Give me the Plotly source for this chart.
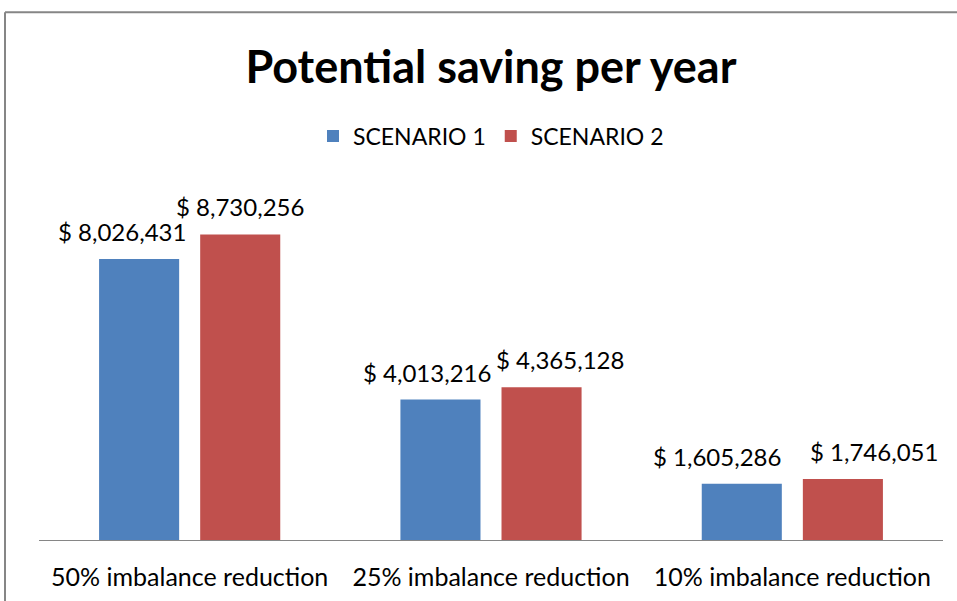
import plotly.graph_objects as go

categories = ["50% imbalance reduction", "25% imbalance reduction", "10% imbalance reduction"]
scenario1 = [8026431, 4013216, 1605286]
scenario2 = [8730256, 4365128, 1746051]
series_names = ["SCENARIO 1", "SCENARIO 2"]
colors = ["#4F81BD", "#C0504D"]
label_shift1 = [-17, -14, -25]
label_shift2 = [0, 18, 31]

FONT = "Lato"

fig = go.Figure()
fig.add_trace(go.Bar(x=categories, y=scenario1, name=series_names[0],
                     marker=dict(color=colors[0], line=dict(width=0))))
fig.add_trace(go.Bar(x=categories, y=scenario2, name=series_names[1],
                     marker=dict(color=colors[1], line=dict(width=0))))

def fmt(v):
    return "$ {:,}".format(v)

annotations = []
for i, c in enumerate(categories):
    for vals, shifts, off in ((scenario1, label_shift1, -50.5), (scenario2, label_shift2, 50.5)):
        annotations.append(dict(
            x=c, y=vals[i], xref="x", yref="y", text=fmt(vals[i]),
            showarrow=False, yanchor="bottom", yshift=11,
            xshift=off + shifts[i],
            font=dict(family=FONT, size=24, color="#000000")))

# chart border (gray), plot area x 39..943, y 190.5..540
px0, px1, py0, py1 = 39, 943, 190.5, 540
def xp(px):
    return (px - px0) / (px1 - px0)
def yp(py):
    return (py1 - py) / (py1 - py0)

shapes = [
    dict(type="line", xref="paper", yref="paper", x0=xp(5), x1=xp(965), y0=yp(13), y1=yp(13),
         line=dict(color="#868686", width=2)),
    dict(type="line", xref="paper", yref="paper", x0=xp(5), x1=xp(5), y0=yp(13), y1=yp(610),
         line=dict(color="#868686", width=2)),
]

fig.update_layout(
    width=957, height=601,
    margin=dict(l=39, r=14, t=190, b=61, autoexpand=False),
    paper_bgcolor="white", plot_bgcolor="white",
    title=dict(text="<b>Potential saving per year</b>", x=0.513, xanchor="center",
               y=1 - 67 / 601, yanchor="middle",
               font=dict(family=FONT, size=45, color="#000000")),
    legend=dict(orientation="h", x=0.5, xanchor="center", y=1 - 136 / 601, yanchor="middle",
                yref="container",
                font=dict(family=FONT, size=23, color="#000000"), itemwidth=30,
                traceorder="normal"),
    barmode="group", bargap=0.329, bargroupgap=0.208,
    annotations=annotations, shapes=shapes,
    font=dict(family=FONT),
)
fig.update_xaxes(showline=True, linecolor="#868686", linewidth=1, ticks="",
                 ticklabelstandoff=15, automargin=False,
                 tickfont=dict(family=FONT, size=25, color="#000000"), showgrid=False)
fig.update_yaxes(range=[0, 10000000], visible=False, showgrid=False, automargin=False)

fig.write_html("out.html", config={"displayModeBar": False},
               post_script="document.body.style.margin='0';")
